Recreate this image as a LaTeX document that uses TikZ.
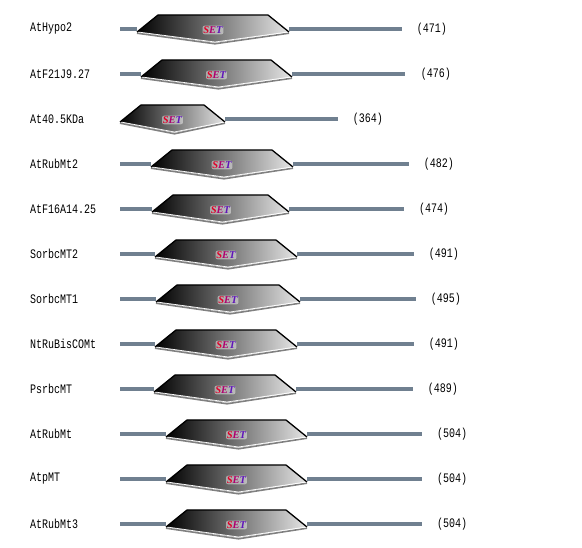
\documentclass[tikz,border=0pt]{standalone}
\usepackage{fontspec}
\usepackage{graphicx}
\newfontfamily\seqfont{Liberation Mono}
\newfontfamily\setfont{Liberation Serif}
\usetikzlibrary{calc}
\definecolor{linegray}{RGB}{112,128,144}
\definecolor{setred}{RGB}{225,0,40}
\definecolor{setmid}{RGB}{175,0,110}
\definecolor{setpurple}{RGB}{95,20,185}

\begin{document}
\begin{tikzpicture}[x=1pt,y=-1pt,
  stub/.style={linegray, line width=4.5pt},
  seqname/.style={anchor=west, inner sep=0pt, font=\seqfont\fontsize{10}{12}\selectfont},
  seqlen/.style={inner sep=0pt, font=\seqfont\fontsize{10}{12}\selectfont},
  setlabel/.style={fill=white, fill opacity=0.45, text opacity=1, rounded corners=2pt,
    inner sep=0.8pt, font=\setfont\bfseries\itshape\fontsize{10.5}{10}\selectfont}]
\useasboundingbox (0,0) rectangle (582,548);
% name / row y / left stub / left point / right point / line end / length / length x
\foreach \nm/\yc/\st/\lp/\rp/\en/\len/\lx [count=\i] in {
    AtHypo2/29/1/137/289/402/471/432,
    AtF21J9.27/74/1/141/292/405/476/436,
    At40.5KDa/119/0/120/225/338/364/368,
    AtRubMt2/164/1/151/293/409/482/439,
    AtF16A14.25/209/1/152/289/404/474/434,
    SorbcMT2/254/1/155/297/414/491/444,
    SorbcMT1/299/1/156/300/416/495/446,
    NtRuBisCOMt/344/1/155/297/414/491/444,
    PsrbcMT/389/1/154/296/413/489/443,
    AtRubMt/434/1/166/307/422/504/452,
    AtpMT/479/1/166/307/422/504/452,
    AtRubMt3/524/1/166/307/422/504/452}{
  \node[seqname] (name\i) at (30,\yc) {\scalebox{1}[1.3]{\nm}};
  \ifnum\st=1 \draw[stub] (120,\yc) -- (\lp,\yc); \fi
  \draw[stub] (\rp,\yc) -- (\en,\yc);
  % SET domain
  \draw[black!50, line width=1.6pt, line join=round]
    (\lp,\yc+4.2) -- ({(\lp+\rp)/2+2},\yc+14.8) -- (\rp,\yc+4.2);
  \shade[left color=black, middle color=black!58, right color=black!10]
    (\lp,\yc+3) -- (\lp+21,\yc-14) -- (\rp-21,\yc-14) -- (\rp,\yc+3)
    -- ({(\lp+\rp)/2+2},\yc+13.5) -- cycle;
  \draw[white, line width=0.7pt, line join=round]
    (\lp+1,\yc+3) -- ({(\lp+\rp)/2+2},\yc+13) -- (\rp-1,\yc+3);
  \draw[black, line width=1.3pt, line join=round]
    (\lp,\yc+3) -- (\lp+21,\yc-14) -- (\rp-21,\yc-14) -- (\rp,\yc+3);
  \node[setlabel] (set\i) at ({(\lp+\rp)/2},\yc+1) {\textcolor{setred}{S}\textcolor{setmid}{E}\textcolor{setpurple}{T}};
  \node[seqlen] (len\i) at (\lx,\yc) {\scalebox{1}[1.3]{(\len)}};
}
\end{tikzpicture}
\end{document}
